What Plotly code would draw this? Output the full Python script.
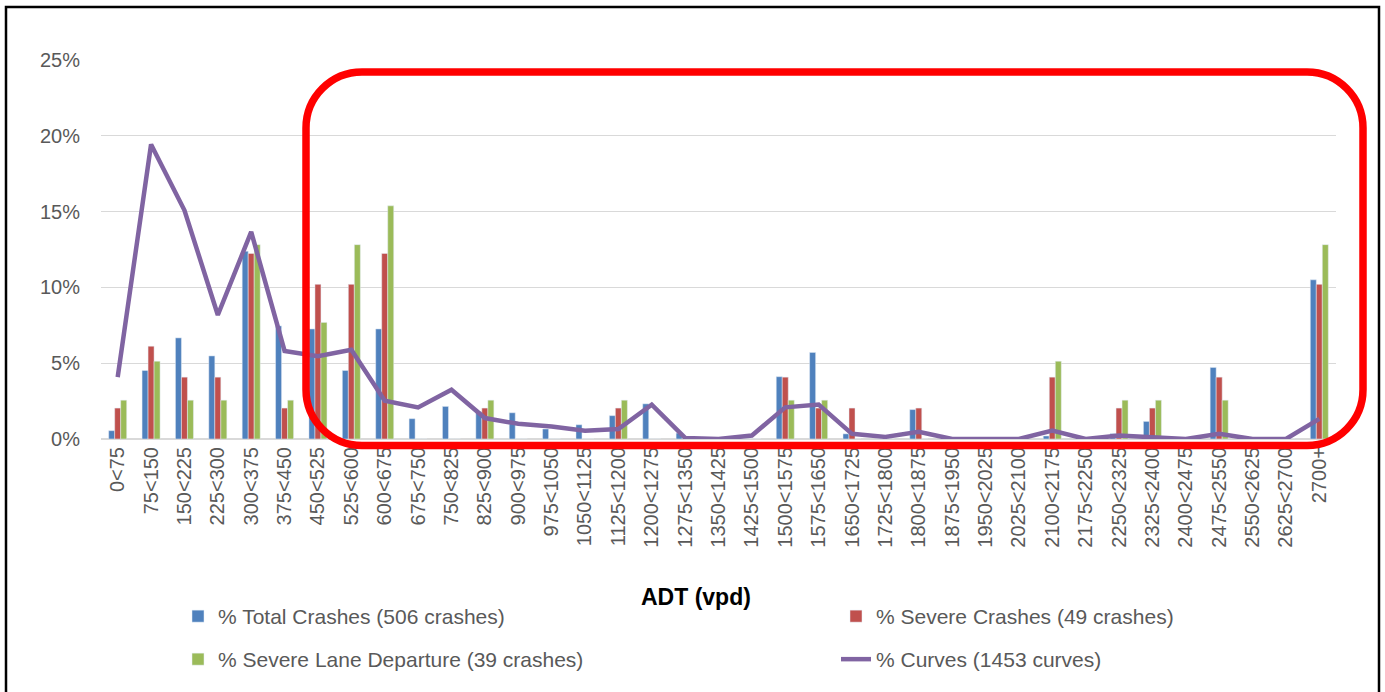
import plotly.graph_objects as go

# ---------------- data ----------------
categories = ["0<75", "75<150", "150<225", "225<300", "300<375", "375<450", "450<525",
              "525<600", "600<675", "675<750", "750<825", "825<900", "900<975", "975<1050",
              "1050<1125", "1125<1200", "1200<1275", "1275<1350", "1350<1425", "1425<1500",
              "1500<1575", "1575<1650", "1650<1725", "1725<1800", "1800<1875", "1875<1950",
              "1950<2025", "2025<2100", "2100<2175", "2175<2250", "2250<2325", "2325<2400",
              "2400<2475", "2475<2550", "2550<2625", "2625<2700", "2700+"]

total_crashes = [0.55, 4.52, 6.67, 5.48, 12.39, 7.46, 7.26, 4.52, 7.26, 1.34, 2.15, 1.8, 1.73,
                 0.66, 0.94, 1.54, 2.32, 0.39, 0, 0, 4.11, 5.71, 0.34, 0, 1.94, 0, 0, 0, 0.2,
                 0, 0.36, 1.16, 0, 4.72, 0, 0, 10.5]

severe_crashes = [2.04, 6.12, 4.08, 4.08, 12.24, 2.04, 10.2, 10.2, 12.24, 0, 0, 2.04, 0, 0, 0,
                  2.04, 0, 0, 0, 0, 4.08, 2.04, 2.04, 0, 2.04, 0, 0, 0, 4.08, 0, 2.04, 2.04, 0,
                  4.08, 0, 0, 10.2]

severe_lane_departure = [2.56, 5.13, 2.56, 2.56, 12.82, 2.56, 7.69, 12.82, 15.38, 0, 0, 2.56,
                         0, 0, 0, 2.56, 0, 0, 0, 0, 2.56, 2.56, 0, 0, 0, 0, 0, 0, 5.13, 0, 2.56,
                         2.56, 0, 2.56, 0, 0, 12.82]

curves = [4.08, 19.43, 15.09, 8.18, 13.66, 5.81, 5.46, 5.88, 2.52, 2.08, 3.25, 1.38, 1.0, 0.83,
          0.55, 0.66, 2.26, 0.07, 0.0, 0.23, 2.09, 2.27, 0.34, 0.14, 0.47, 0, 0, 0, 0.56, 0,
          0.23, 0.14, 0, 0.34, 0, 0, 1.33]

y_ticks = [0, 5, 10, 15, 20, 25]
y_tick_labels = ["0%", "5%", "10%", "15%", "20%", "25%"]

names = ["% Total Crashes (506 crashes)", "% Severe Crashes (49 crashes)",
         "% Severe Lane Departure (39 crashes)", "% Curves (1453 curves)"]
x_title = "ADT (vpd)"

# ---------------- layout geometry (pixels) ----------------
W, H = 1385, 692
ML, MR, MT, MB = 101, 49, 60, 252.5
PW = W - ML - MR
PH = H - MT - MB

def px(x):
    return (x - ML) / PW

def py(y):
    return (H - MB - y) / PH

FONT = "Liberation Sans"
GRAY = "#595959"

fig = go.Figure()
fig.add_trace(go.Bar(x=categories, y=total_crashes, name=names[0],
                     marker_color="#4F81BD", legend="legend"))
fig.add_trace(go.Bar(x=categories, y=severe_crashes, name=names[1],
                     marker_color="#C0504D", legend="legend2"))
fig.add_trace(go.Bar(x=categories, y=severe_lane_departure, name=names[2],
                     marker_color="#9BBB59", legend="legend3"))
fig.add_trace(go.Scatter(x=categories, y=curves, name=names[3], mode="lines",
                         line=dict(color="#8064A2", width=4.5), legend="legend4"))

# rounded red rectangle (pixel geometry -> paper)
L, R, T, B, r = 306, 1363, 72, 446, 56
k = 0.5523 * r
path = (
    f"M {px(L + r)},{py(T)} L {px(R - r)},{py(T)} "
    f"C {px(R - r + k)},{py(T)} {px(R)},{py(T + r - k)} {px(R)},{py(T + r)} "
    f"L {px(R)},{py(B - r)} "
    f"C {px(R)},{py(B - r + k)} {px(R - r + k)},{py(B)} {px(R - r)},{py(B)} "
    f"L {px(L + r)},{py(B)} "
    f"C {px(L + r - k)},{py(B)} {px(L)},{py(B - r + k)} {px(L)},{py(B - r)} "
    f"L {px(L)},{py(T + r)} "
    f"C {px(L)},{py(T + r - k)} {px(L + r - k)},{py(T)} {px(L + r)},{py(T)} Z"
)

shapes = [
    dict(type="path", xref="paper", yref="paper", path=path,
         line=dict(color="#FF0000", width=7.5), layer="above"),
    dict(type="rect", xref="paper", yref="paper",
         x0=px(6), x1=px(1379), y0=py(7), y1=py(705),
         line=dict(color="black", width=2.5), layer="above"),
]

legend_common = dict(orientation="h", xref="container", yref="container",
                     xanchor="left", yanchor="top",
                     font=dict(family=FONT, size=21, color=GRAY),
                     bgcolor="rgba(0,0,0,0)", itemclick=False, itemdoubleclick=False)

COL1, COL2 = 178, 836
ROW1, ROW2 = 596, 639

fig.update_layout(
    width=W, height=H,
    margin=dict(l=ML, r=MR, t=MT, b=MB, autoexpand=False),
    paper_bgcolor="white", plot_bgcolor="white",
    barmode="group", bargap=0.46, bargroupgap=0,
    font=dict(family=FONT, color=GRAY),
    showlegend=True,
    legend=dict(x=COL1 / W, y=1 - ROW1 / H, **legend_common),
    legend2=dict(x=COL2 / W, y=1 - ROW1 / H, **legend_common),
    legend3=dict(x=COL1 / W, y=1 - ROW2 / H, **legend_common),
    legend4=dict(x=COL2 / W, y=1 - ROW2 / H, **legend_common),
    xaxis=dict(
        type="category", tickangle=-90, ticks="", showgrid=False,
        tickfont=dict(family=FONT, size=20, color=GRAY),
        showline=False, zeroline=False, automargin=False, ticklabelstandoff=3,
    ),
    yaxis=dict(
        range=[0, 25], tickvals=y_ticks, ticktext=y_tick_labels,
        showgrid=True, gridcolor="#D9D9D9", gridwidth=1.3,
        zeroline=True, zerolinecolor="#D9D9D9", zerolinewidth=1.5,
        showline=False, ticks="", automargin=False, ticklabelstandoff=20,
        tickfont=dict(family=FONT, size=20, color=GRAY),
    ),
    shapes=shapes,
    annotations=[dict(text="<b>" + x_title + "</b>", xref="paper", yref="paper",
                      x=px(696), y=py(598), xanchor="center", yanchor="middle",
                      showarrow=False, font=dict(family=FONT, size=23, color="black"))],
)

fig.write_html("out.html", config={"displayModeBar": False},
               post_script="document.body.style.margin='0';document.body.style.overflow='hidden';")
